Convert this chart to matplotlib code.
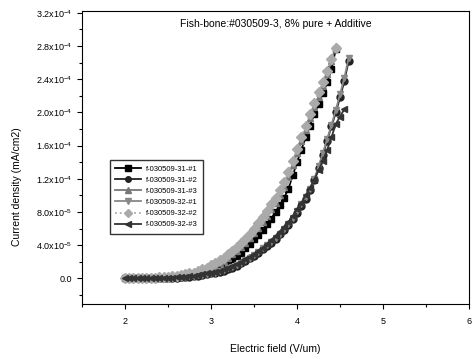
"""Fish-bone field emission J-E curves (#030509-3, 8% pure + additive)

"""

import numpy as np
import matplotlib
matplotlib.use('Agg')
import matplotlib.pyplot as plt
from matplotlib.ticker import MultipleLocator, FixedLocator

plt.rcParams['font.family'] = ['Liberation Sans', 'DejaVu Sans']
plt.rcParams['mathtext.default'] = 'regular'

# electric field grids (V/um), sampled every 0.05
e_short = np.round(np.arange(2.0, 4.451, 0.05), 2)   # 50 points
e_long = np.round(np.arange(2.0, 4.601, 0.05), 2)    # 53 points
e_mid = np.round(np.arange(2.0, 4.551, 0.05), 2)     # 52 points

# current density in units of 1e-4 mA/cm2
j_31_1 = [0.00, 0.00, 0.00, 0.00, 0.00, 0.00, 0.01, 0.01, 0.01, 0.01,
          0.01, 0.02, 0.02, 0.02, 0.03, 0.03, 0.04, 0.05, 0.06, 0.08,
          0.10, 0.12, 0.14, 0.17, 0.20, 0.23, 0.27, 0.31, 0.36, 0.41,
          0.47, 0.52, 0.58, 0.65, 0.72, 0.80, 0.88, 0.97, 1.08, 1.24,
          1.40, 1.55, 1.70, 1.84, 1.98, 2.10, 2.23, 2.36, 2.52, 2.76]

j_31_2 = [0.00, 0.00, 0.00, 0.00, 0.00, 0.00, 0.00, 0.00, 0.01, 0.01,
          0.01, 0.01, 0.01, 0.02, 0.02, 0.02, 0.03, 0.03, 0.04, 0.05,
          0.06, 0.07, 0.08, 0.09, 0.11, 0.13, 0.15, 0.18, 0.21, 0.24,
          0.27, 0.31, 0.35, 0.39, 0.43, 0.48, 0.53, 0.58, 0.64, 0.71,
          0.79, 0.87, 0.96, 1.06, 1.18, 1.33, 1.49, 1.66, 1.83, 2.00,
          2.18, 2.38, 2.62]

j_31_3 = [0.00, 0.00, 0.00, 0.00, 0.00, 0.01, 0.01, 0.01, 0.01, 0.02,
          0.02, 0.02, 0.03, 0.03, 0.04, 0.05, 0.06, 0.07, 0.09, 0.11,
          0.13, 0.15, 0.18, 0.21, 0.25, 0.29, 0.33, 0.38, 0.43, 0.49,
          0.55, 0.61, 0.68, 0.75, 0.83, 0.91, 1.00, 1.10, 1.22, 1.36,
          1.51, 1.65, 1.79, 1.93, 2.06, 2.19, 2.32, 2.46, 2.62, 2.80]

j_32_1 = [0.00, 0.00, 0.00, 0.00, 0.00, 0.00, 0.00, 0.00, 0.01, 0.01,
          0.01, 0.01, 0.01, 0.02, 0.02, 0.03, 0.03, 0.04, 0.04, 0.05,
          0.06, 0.07, 0.09, 0.10, 0.12, 0.14, 0.16, 0.19, 0.22, 0.25,
          0.28, 0.32, 0.36, 0.40, 0.44, 0.49, 0.54, 0.60, 0.66, 0.73,
          0.81, 0.89, 0.98, 1.08, 1.20, 1.35, 1.51, 1.68, 1.85, 2.03,
          2.22, 2.42, 2.66]

j_32_2 = [0.00, 0.00, 0.00, 0.00, 0.01, 0.01, 0.01, 0.01, 0.02, 0.02,
          0.02, 0.03, 0.03, 0.04, 0.05, 0.06, 0.07, 0.09, 0.11, 0.13,
          0.16, 0.19, 0.22, 0.25, 0.29, 0.33, 0.38, 0.43, 0.48, 0.54,
          0.60, 0.67, 0.74, 0.81, 0.89, 0.97, 1.06, 1.16, 1.28, 1.42,
          1.56, 1.70, 1.84, 1.98, 2.11, 2.24, 2.37, 2.50, 2.64, 2.78]

j_32_3 = [0.00, 0.00, 0.00, 0.00, 0.00, 0.00, 0.00, 0.01, 0.01, 0.01,
          0.01, 0.01, 0.02, 0.02, 0.02, 0.03, 0.03, 0.04, 0.05, 0.06,
          0.07, 0.08, 0.09, 0.11, 0.13, 0.15, 0.17, 0.20, 0.23, 0.26,
          0.29, 0.33, 0.37, 0.41, 0.46, 0.51, 0.56, 0.62, 0.68, 0.75,
          0.83, 0.91, 1.00, 1.09, 1.19, 1.30, 1.42, 1.55, 1.70, 1.86,
          1.95, 2.04]

labels = ['f-030509-31-#1', 'f-030509-31-#2', 'f-030509-31-#3',
          'f-030509-32-#1', 'f-030509-32-#2', 'f-030509-32-#3']
y_ticks = [0.0, 0.4e-4, 0.8e-4, 1.2e-4, 1.6e-4, 2.0e-4, 2.4e-4, 2.8e-4, 3.2e-4]
y_tick_labels = ['0.0', '4.0x10$^{-5}$', '8.0x10$^{-5}$', '1.2x10$^{-4}$',
                 '1.6x10$^{-4}$', '2.0x10$^{-4}$', '2.4x10$^{-4}$',
                 '2.8x10$^{-4}$', '3.2x10$^{-4}$']


def main():
    fig = plt.figure(figsize=(4.73, 3.59), dpi=100)
    ax = fig.add_axes([0.173, 0.153, 0.819, 0.816])

    series = [
        (e_short, j_31_1, 's', '#000000', '-'),
        (e_long, j_31_2, 'o', '#222222', '-'),
        (e_short, j_31_3, '^', '#777777', '-'),
        (e_long, j_32_1, 'v', '#888888', '-'),
        (e_short, j_32_2, 'D', '#aaaaaa', ':'),
        (e_mid, j_32_3, '<', '#333333', '-'),
    ]
    for (e, j, m, c, ls), lab in zip(series, labels):
        ax.plot(e, np.array(j) * 1e-4, marker=m, color=c, ls=ls, lw=1.3,
                markersize=5, label=lab)

    ax.set_xlim(1.5, 6.0)
    ax.set_ylim(-0.31e-4, 3.22e-4)
    ax.xaxis.set_major_locator(MultipleLocator(1))
    ax.xaxis.set_minor_locator(MultipleLocator(0.5))
    ax.yaxis.set_major_locator(FixedLocator(y_ticks))
    ax.yaxis.set_minor_locator(MultipleLocator(0.2e-4))
    ax.set_yticklabels(y_tick_labels)
    ax.tick_params(which='both', direction='out', labelsize=6.5, width=0.8)
    ax.tick_params(which='major', length=3.5)
    ax.tick_params(which='minor', length=2)
    ax.tick_params(axis='x', pad=6)

    ax.text(0.5, 0.955, 'Fish-bone:#030509-3, 8% pure + Additive',
            transform=ax.transAxes, ha='center', va='center', fontsize=7.5)

    ax.set_xlabel('Electric field (V/um)', fontsize=7.5, labelpad=13)
    ax.set_ylabel('Current density (mA/cm2)', fontsize=7.5)
    ax.yaxis.set_label_coords(-0.155, 0.4)

    ax.legend(loc='upper left', bbox_to_anchor=(0.063, 0.505), fontsize=5.5,
              frameon=True, fancybox=False, edgecolor='black',
              handlelength=3.4, markerscale=0.8, labelspacing=0.5,
              borderpad=0.7, handletextpad=0.6)

    fig.savefig('out.png', dpi=100)


if __name__ == '__main__':
    main()
